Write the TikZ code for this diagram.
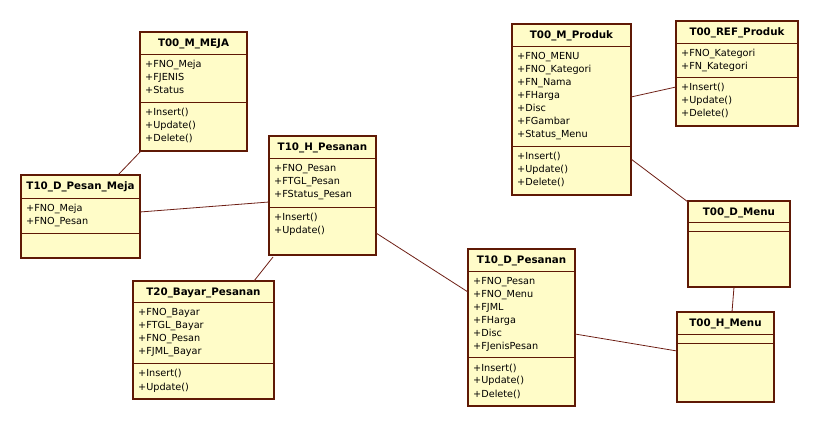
\documentclass[tikz,border=0pt]{standalone}
\usepackage{fontspec}
\setmainfont{DejaVu Sans}
\usetikzlibrary{calc}
\definecolor{clsfill}{RGB}{255,252,200}
\definecolor{clsline}{RGB}{95,25,5}
\definecolor{connline}{RGB}{110,30,20}
\newcommand\attrfont{\fontsize{9.7}{13}\selectfont}
\newcommand\titlefont{\fontsize{10.3}{13}\selectfont\bfseries}
% #1 name, #2 x1, #3 y1, #4 x2, #5 y2, #6 sep1, #7 sep2, #8 title, #9 attrs
\newcommand\umlclass[9]{%
  \node[clsbox, anchor=north west, minimum width={(#4-#2)*1pt}, minimum height={(#5-#3)*1pt}] (#1) at (#2,#3) {};
  \draw[clsborder] (#1.west |- 0,#6) -- (#1.east |- 0,#6);
  \draw[clsborder] (#1.west |- 0,#7) -- (#1.east |- 0,#7);
  \node[clstitle] (#1T) at ($(#1.north)+(0,15)$) {#8};
  \foreach \t [count=\i] in {#9} {
    \node[clstext] (#1A\i) at (#2+5,#6+14+13*\i-13) {\t};
  }
}
\tikzset{
  clsbox/.style={draw=clsline, fill=clsfill, line width=1.1pt, inner sep=0pt, outer sep=0pt},
  clsborder/.style={draw=clsline, line width=0.9pt},
  clstitle/.style={anchor=base, inner sep=0pt, font=\titlefont, text=black},
  clstext/.style={anchor=base west, inner sep=0pt, font=\attrfont, text=black},
  conn/.style={draw=connline, line width=0.8pt},
}
\begin{document}
\begin{tikzpicture}[x=1pt,y=-1pt]
\useasboundingbox[fill=white] (0,0) rectangle (819,427);

\umlclass{meja}{140}{32}{247}{151}{54}{102}{T00\_M\_MEJA}{+FNO\_Meja,+FJENIS,+Status}
\foreach \t [count=\i] in {+Insert(),+Update(),+Delete()}
  \node[clstext] (mejaM\i) at (145,102+14+13*\i-13) {\t};

\umlclass{dpm}{21}{175}{140}{258}{198}{233}{T10\_D\_Pesan\_Meja}{+FNO\_Meja,+FNO\_Pesan}

\umlclass{hpes}{269}{136}{376}{255}{158}{207}{T10\_H\_Pesanan}{+FNO\_Pesan,+FTGL\_Pesan,+FStatus\_Pesan}
\foreach \t [count=\i] in {+Insert(),+Update()}
  \node[clstext] (hpesM\i) at (274,207+14+13*\i-13) {\t};

\umlclass{bayar}{133}{281}{274}{399}{302}{363}{T20\_Bayar\_Pesanan}{+FNO\_Bayar,+FTGL\_Bayar,+FNO\_Pesan,+FJML\_Bayar}
\foreach \t [count=\i] in {+Insert(),+Update()}
  \node[clstext] (bayarM\i) at (138,363+14+13*\i-13) {\t};

\umlclass{dpes}{468}{249}{575}{406}{271}{357}{T10\_D\_Pesanan}{+FNO\_Pesan,+FNO\_Menu,+FJML,+FHarga,+Disc,+FJenisPesan}
\foreach \t [count=\i] in {+Insert(),+Update(),+Delete()}
  \node[clstext] (dpesM\i) at (473,357+14+13*\i-13) {\t};

\umlclass{mprod}{512}{24}{631}{195}{46}{146}{T00\_M\_Produk}{+FNO\_MENU,+FNO\_Kategori,+FN\_Nama,+FHarga,+Disc,+FGambar,+Status\_Menu}
\foreach \t [count=\i] in {+Insert(),+Update(),+Delete()}
  \node[clstext] (mprodM\i) at (517,146+14+13*\i-13) {\t};

\umlclass{refp}{676}{21}{798}{126}{43}{77}{T00\_REF\_Produk}{+FNO\_Kategori,+FN\_Kategori}
\foreach \t [count=\i] in {+Insert(),+Update(),+Delete()}
  \node[clstext] (refpM\i) at (681,77+14+13*\i-13) {\t};

\umlclass{dmenu}{688}{201}{790}{287}{222}{231}{T00\_D\_Menu}{}
\umlclass{hmenu}{677}{312}{774}{402}{334}{343}{T00\_H\_Menu}{}

% connectors
\draw[conn] ($(meja.south west)+(1,0)$) -- ($(dpm.north west)+(97,0)$);
\draw[conn] ($(dpm.north east)+(0,37)$) -- ($(hpes.north west)+(0,66)$);
\draw[conn] ($(hpes.north east)+(0,97)$) -- ($(dpes.north west)+(0,43)$);
\draw[conn] ($(hpes.south west)+(4,2)$) -- ($(bayar.north west)+(121,0)$);
\draw[conn] ($(dpes.north east)+(0,85)$) -- ($(hmenu.north west)+(0,39)$);
\draw[conn] ($(dmenu.south west)+(46,0)$) -- ($(hmenu.north west)+(55,0)$);
\draw[conn] ($(mprod.north east)+(0,135)$) -- ($(dmenu.north west)+(0,1)$);
\draw[conn] ($(mprod.north east)+(0,73)$) -- ($(refp.north west)+(0,66)$);
\end{tikzpicture}
\end{document}
